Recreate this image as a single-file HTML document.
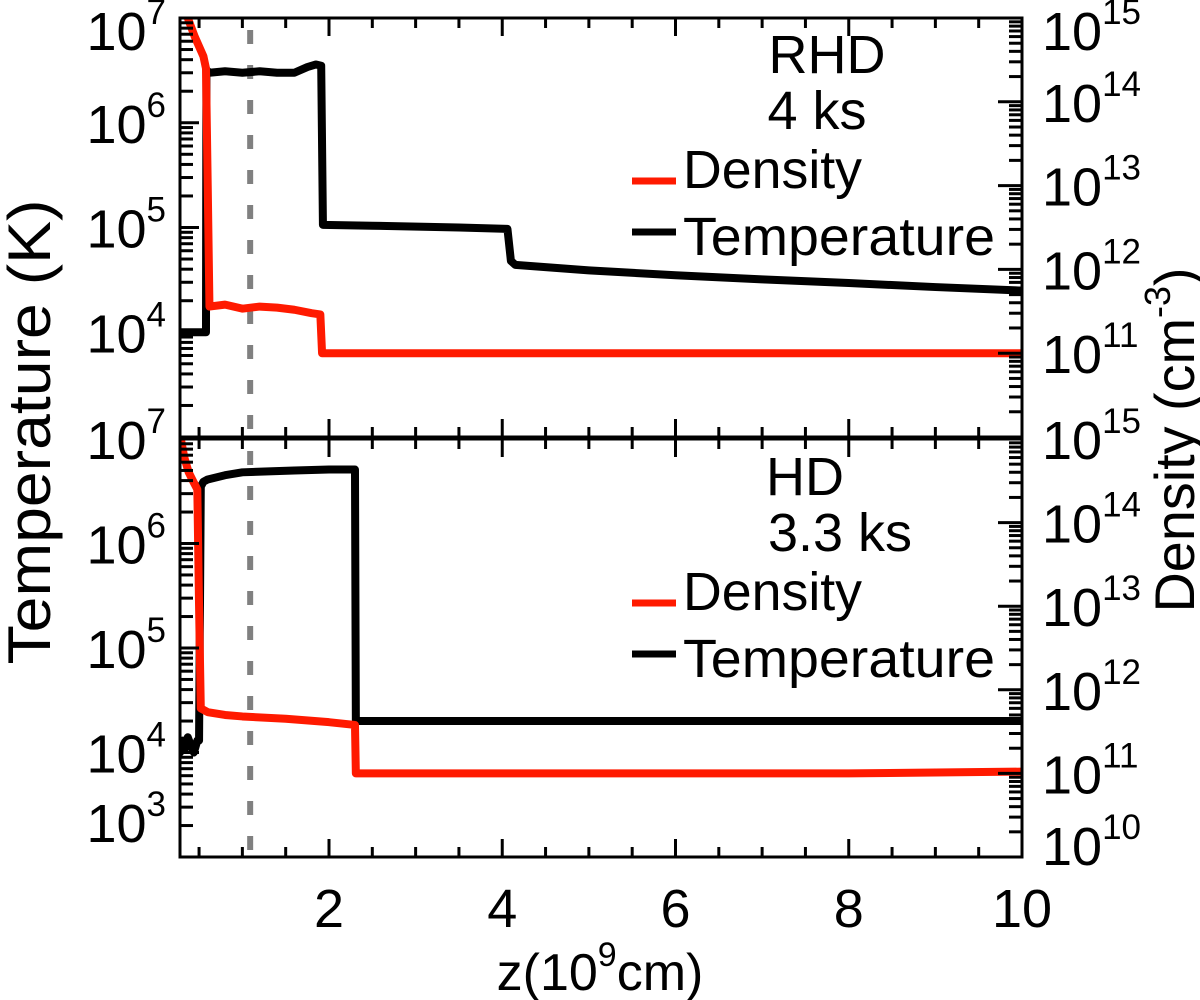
<!DOCTYPE html>
<html><head><meta charset="utf-8"><style>
html,body{margin:0;padding:0;background:#fff}
svg{display:block;font-family:"Liberation Sans",Arial,sans-serif}
</style></head><body>
<svg id="chart" width="1200" height="1000" viewBox="0 0 1200 1000" xmlns="http://www.w3.org/2000/svg"></svg>
<script>
// ---- data ----
const xTicks = [2, 4, 6, 8, 10];
const xTickLabels = ["2", "4", "6", "8", "10"];
const xMinorStep = 0.5;
const xRange = [0.28, 10];
const tempRange = [3, 7];     // log10 K
const densRange = [10, 15];   // log10 cm^-3
const tempTickExps = [7, 6, 5, 4, 3];
const densTickExps = [15, 14, 13, 12, 11, 10];
const dashedZ = 1.09;

// top panel (RHD, 4 ks) : [z, value]
const rhdTempZ   = [0.28, 0.58, 0.585, 0.62, 0.8, 1.0, 1.2, 1.4, 1.6, 1.75, 1.85, 1.91, 1.93, 2.5, 3.5, 4.06, 4.1, 4.15, 5, 6, 7, 8, 9, 10];
const rhdTempV   = [1e4, 1e4, 3.2e6, 3.0e6, 3.1e6, 3.0e6, 3.1e6, 3.0e6, 3.0e6, 3.4e6, 3.6e6, 3.5e6, 1.06e5, 1.04e5, 1.0e5, 9.7e4, 4.8e4, 4.4e4, 3.9e4, 3.5e4, 3.2e4, 2.95e4, 2.7e4, 2.5e4];
const rhdDensZ   = [0.37, 0.45, 0.55, 0.58, 0.6, 0.62, 0.8, 1.0, 1.2, 1.4, 1.6, 1.8, 1.9, 1.92, 3, 5, 7, 10];
const rhdDensV   = [1e15, 6e14, 3.5e14, 2.5e14, 1e13, 3.6e11, 3.8e11, 3.4e11, 3.6e11, 3.5e11, 3.3e11, 3.0e11, 2.9e11, 1.0e11, 1.0e11, 1.0e11, 1.0e11, 1.0e11];

// bottom panel (HD, 3.3 ks)
const hdTempZ    = [0.28, 0.31, 0.34, 0.37, 0.40, 0.44, 0.48, 0.5, 0.52, 0.55, 0.6, 0.8, 1.0, 1.3, 1.6, 2.0, 2.3, 2.31, 2.5, 4, 6, 8, 10];
const hdTempV    = [1.0e4, 1.3e4, 1.1e4, 1.4e4, 1.2e4, 1.0e4, 1.3e4, 1.3e4, 3.5e6, 3.9e6, 4.1e6, 4.5e6, 4.8e6, 4.9e6, 5.0e6, 5.1e6, 5.1e6, 2.0e4, 2.0e4, 2.0e4, 2.0e4, 2.0e4, 2.0e4];
const hdDensZ    = [0.29, 0.33, 0.38, 0.44, 0.48, 0.5, 0.52, 0.6, 0.8, 1.0, 1.5, 2.0, 2.3, 2.31, 4, 6, 8, 10];
const hdDensV    = [1e15, 6e14, 4e14, 3e14, 2.5e14, 1e13, 6e11, 5.4e11, 5.0e11, 4.8e11, 4.5e11, 4.1e11, 3.8e11, 1.0e11, 1.0e11, 1.0e11, 1.0e11, 1.05e11];

// ---- layout ----
const L = 180, R = 1022;
const panels = [
  {top: 18, bot: 437, label1: "RHD", label2: "4 ks", l1x: 827, l2x: 817, tZ: rhdTempZ, tV: rhdTempV, dZ: rhdDensZ, dV: rhdDensV, name: "rhd", legY: 181, labY: 73},
  {top: 439, bot: 857, label1: "HD", label2: "3.3 ks", l1x: 805, l2x: 840, tZ: hdTempZ, tV: hdTempV, dZ: hdDensZ, dV: hdDensV, name: "hd", legY: 603, labY: 495}
];
const svg = document.getElementById('chart');
const NS = "http://www.w3.org/2000/svg";
function mk(tag, attrs, parent) {
  const e = document.createElementNS(NS, tag);
  for (const k in attrs) e.setAttribute(k, attrs[k]);
  (parent || svg).appendChild(e);
  return e;
}
function xs(z) { return L + (z - xRange[0]) / (xRange[1] - xRange[0]) * (R - L); }

panels.forEach((p, pi) => {
  const H = p.bot - p.top;
  const yT = v => p.bot - (Math.log10(v) - tempRange[0]) / (tempRange[1] - tempRange[0]) * H;
  const yD = v => p.bot - (Math.log10(v) - densRange[0]) / (densRange[1] - densRange[0]) * H;
  const g = mk('g', {});
  
  

  const cid = 'clip' + pi;
  const cp = mk('clipPath', {id: cid}, g);
  mk('rect', {x: L, y: p.top, width: R - L, height: H}, cp);

  const dl = mk('line', {x1: xs(dashedZ), x2: xs(dashedZ), y1: p.top, y2: p.bot, stroke: '#808080', 'stroke-width': 6, 'stroke-dasharray': '14,21', 'stroke-dashoffset': -12}, g);
  
  

  const tp = mk('polyline', {points: p.tZ.map((z, i) => xs(z) + ',' + yT(p.tV[i])).join(' '), fill: 'none', stroke: '#000', 'stroke-width': 8, 'stroke-linejoin': 'round', 'stroke-linecap': 'round', 'clip-path': 'url(#' + cid + ')'}, g);
  
  
  const dp = mk('polyline', {points: p.dZ.map((z, i) => xs(z) + ',' + yD(p.dV[i])).join(' '), fill: 'none', stroke: '#ff1a00', 'stroke-width': 8, 'stroke-linejoin': 'round', 'stroke-linecap': 'round', 'clip-path': 'url(#' + cid + ')'}, g);
  
  

  const fr = mk('rect', {x: L, y: p.top, width: R - L, height: H, fill: 'none', stroke: '#000', 'stroke-width': 3}, g);
  
  

  for (let z = xMinorStep; z <= xRange[1] + 1e-6; z += xMinorStep) {
    if (z < xRange[0]) continue;
    const major = Math.abs(z / 2 - Math.round(z / 2)) < 1e-6;
    const len = major ? 18 : 10;
    mk('line', {x1: xs(z), x2: xs(z), y1: p.bot, y2: p.bot - len, stroke: '#000', 'stroke-width': 3}, g);
    mk('line', {x1: xs(z), x2: xs(z), y1: p.top, y2: p.top + len, stroke: '#000', 'stroke-width': 3}, g);
  }
  for (let e = tempRange[0]; e < tempRange[1]; e++) {
    for (let m = 1; m < 10; m++) {
      const y = yT(m * Math.pow(10, e));
      const len = m === 1 ? 19 : 13;
      mk('line', {x1: L, x2: L + len, y1: y, y2: y, stroke: '#000', 'stroke-width': 3}, g);
    }
  }
  for (let e = densRange[0]; e < densRange[1]; e++) {
    for (let m = 1; m < 10; m++) {
      const y = yD(m * Math.pow(10, e));
      const len = m === 1 ? 24 : 13;
      mk('line', {x1: R, x2: R - len, y1: y, y2: y, stroke: '#000', 'stroke-width': 3}, g);
    }
  }
  tempTickExps.forEach(e => {
    if (pi === 0 && e === 3) return;
    let y = yT(Math.pow(10, e));
    if (pi === 1 && e === 3) y = 822;
    if (pi === 0 && e === 7) y = 30;
    const t = mk('text', {x: 166, y: y + 20, 'text-anchor': 'end', 'font-size': 54}, g);
    
    
    t.innerHTML = '10<tspan dy="-26" font-size="35">' + e + '</tspan>';
  });
  densTickExps.forEach(e => {
    if (pi === 0 && e === 10) return;
    let y = yD(Math.pow(10, e));
    if (pi === 0 && e === 15) y = 30;
    if (pi === 1 && e === 10) y = 845;
    const t = mk('text', {x: 1042, y: y + 20, 'text-anchor': 'start', 'font-size': 54}, g);
    
    
    t.innerHTML = '10<tspan dy="-26" font-size="35">' + e + '</tspan>';
  });

  const l1 = mk('text', {x: p.l1x, y: p.labY, 'text-anchor': 'middle', 'font-size': 54}, g);
  
  
  l1.textContent = p.label1;
  const l2 = mk('text', {x: p.l2x, y: p.labY + 56, 'text-anchor': 'middle', 'font-size': 54}, g);
  
  
  l2.textContent = p.label2;

  const lg = mk('g', {}, g);
  
  
  mk('line', {x1: 632, x2: 676, y1: p.legY, y2: p.legY, stroke: '#ff1a00', 'stroke-width': 7}, lg);
  const ld = mk('text', {x: 683, y: p.legY + 7, 'font-size': 54, textLength: 179, lengthAdjust: 'spacingAndGlyphs'}, lg);
  
  
  ld.textContent = 'Density';
  mk('line', {x1: 632, x2: 676, y1: p.legY + 51, y2: p.legY + 51, stroke: '#000', 'stroke-width': 7}, lg);
  const lt = mk('text', {x: 683, y: p.legY + 74, 'font-size': 54, textLength: 312, lengthAdjust: 'spacingAndGlyphs'}, lg);
  
  
  lt.textContent = 'Temperature';
});

xTicks.forEach((z, i) => {
  const t = mk('text', {x: xs(z), y: 927, 'text-anchor': 'middle', 'font-size': 54});
  
  
  t.textContent = xTickLabels[i];
});
const xt = mk('text', {x: 600, y: 990, 'text-anchor': 'middle', 'font-size': 52});


xt.innerHTML = 'z(10<tspan dy="-24" font-size="34">9</tspan><tspan dy="24">cm)</tspan>';
const yt = mk('text', {x: 0, y: 0, 'text-anchor': 'middle', 'font-size': 60, textLength: 465, lengthAdjust: 'spacingAndGlyphs', transform: 'translate(50,432) rotate(-90)'});


yt.textContent = 'Temperature (K)';
const yr = mk('text', {x: 0, y: 0, 'text-anchor': 'middle', 'font-size': 56, textLength: 345, lengthAdjust: 'spacingAndGlyphs', transform: 'translate(1194,440) rotate(-90)'});


yr.innerHTML = 'Density (cm<tspan dy="-24" font-size="36">-3</tspan><tspan dy="24">)</tspan>';
</script>
</body></html>
